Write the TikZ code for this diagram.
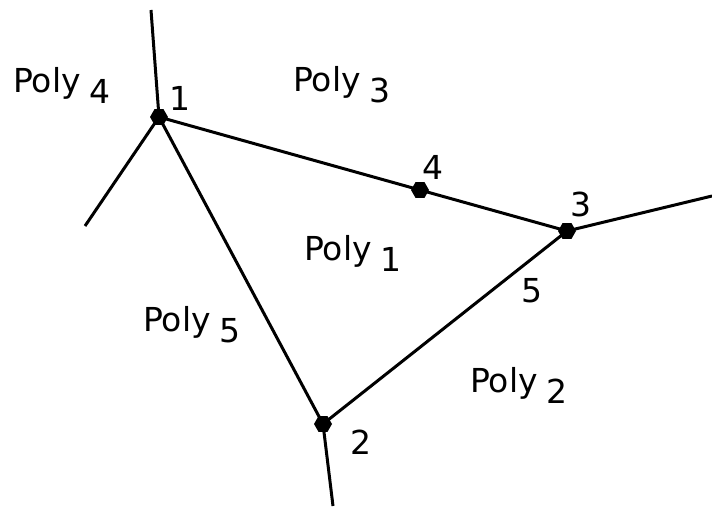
\documentclass[tikz,border=0pt]{standalone}
\usepackage{fontspec}
\setmainfont{DejaVu Sans}
\usetikzlibrary{shapes.geometric}
\tikzset{
  edge/.style={line width=3pt},
  vertex/.style={regular polygon,regular polygon sides=6,fill=black,inner sep=0pt,minimum size=18pt},
  lbl/.style={font=\fontsize{33}{40}\selectfont,inner sep=0pt},
  poly/.style={lbl,anchor=base west}
}
\newcommand{\polyname}[1]{Poly\kern9pt\raisebox{-11pt}{#1}}
\begin{document}
\begin{tikzpicture}[x=1pt,y=-1pt]
\useasboundingbox (0,0) rectangle (712,508);
% coordinates
\coordinate (V1) at (159,117);%
\coordinate (V2) at (323,424);%
\coordinate (V3) at (567,231);%
\coordinate (V4) at (420,190);%
\coordinate (T)  at (151,10);%
\coordinate (L)  at (85,226);%
\coordinate (R)  at (712,196);%
\coordinate (B)  at (333,506);%
% boundaries
\draw[edge] (V1) -- (V4);
\draw[edge] (V4) -- (V3);
\draw[edge] (V3) -- (V2);
\draw[edge] (V2) -- (V1);
% outer edges
\draw[edge] (V1) -- (T);
\draw[edge] (V1) -- (L);
\draw[edge] (V3) -- (R);
\draw[edge] (V2) -- (B);
% vertices
\node[vertex] (n1) at (V1) {};
\node[vertex] (n2) at (V2) {};
\node[vertex] (n3) at (V3) {};
\node[vertex] (n4) at (V4) {};
% numbers
\node[lbl] (l1) at (180,98)  {1};
\node[lbl] (l2) at (361,442) {2};
\node[lbl] (l3) at (581,204) {3};
\node[lbl] (l4) at (433,167) {4};
\node[lbl] (l5) at (532,291) {5};
% polygons
\node[poly] (p4) at (13,93)   {\polyname{4}};
\node[poly] (p3) at (293,92)  {\polyname{3}};
\node[poly] (p1) at (304,260) {\polyname{1}};
\node[poly] (p5) at (143,331) {\polyname{5}};
\node[poly] (p2) at (470,392) {\polyname{2}};
\end{tikzpicture}
\end{document}
